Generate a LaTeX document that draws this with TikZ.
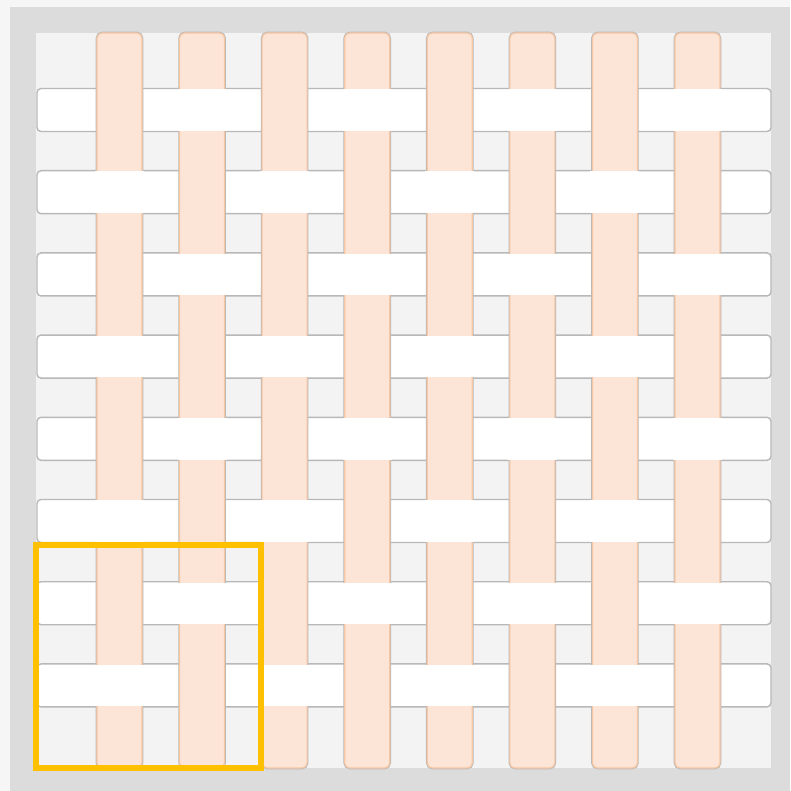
\documentclass[tikz,border=0pt]{standalone}
\usepackage{xcolor}
\definecolor{pagebg}{HTML}{F6F6F6}
\definecolor{framegrey}{HTML}{DCDCDC}
\definecolor{innerbg}{HTML}{F3F3F3}
\definecolor{warpfill}{HTML}{FCE4D6}
\definecolor{warpedge}{HTML}{F7C6A3}
\definecolor{stripline}{HTML}{B8B8B8}
\definecolor{highlight}{HTML}{FFC000}
\begin{document}
\begin{tikzpicture}[x=1pt,y=-1pt,
  warpstrip/.style={fill=warpfill,draw=warpedge,line width=1.2pt,rounded corners=5pt},
  warpshadow/.style={draw=stripline,line width=2.6pt,rounded corners=5pt},
  weftstrip/.style={fill=white,draw=stripline,line width=1.4pt,rounded corners=4pt},
  overpatch/.style={fill=white,draw=none},
  focusbox/.style={draw=highlight,line width=6pt}]
\useasboundingbox (0,0) rectangle (790,791);
\fill[pagebg] (0,0) rectangle (790,791);
\fill[framegrey] (10,7) rectangle (790,791);
\fill[innerbg] (36,33) rectangle (771,768);
% weft strips (horizontal)
\foreach \j in {0,...,7}{
  \pgfmathsetmacro\cy{110+82.2*\j}
  \draw[weftstrip] (37,{\cy-21.5}) rectangle (771,{\cy+21.5});
}
% warp strips (vertical)
\foreach \i in {0,...,7}{
  \pgfmathsetmacro\cx{119.5+82.57*\i}
  \draw[warpshadow] ({\cx-22.5},33) rectangle ({\cx+22.5},768);
  \draw[warpstrip] ({\cx-22.5},33) rectangle ({\cx+22.5},768);
}
% weft over warp where (i+j) is odd
\foreach \i in {0,...,7}{
  \foreach \j in {0,...,7}{
    \pgfmathsetmacro\cx{119.5+82.57*\i}
    \pgfmathsetmacro\cy{110+82.2*\j}
    \pgfmathtruncatemacro\oddsum{mod(\i+\j,2)}
    \ifnum\oddsum=1
      \fill[overpatch] ({\cx-24.5},{\cy-20.7}) rectangle ({\cx+24.5},{\cy+20.7});
    \fi
  }
}
\draw[focusbox] (36.3,544.5) rectangle (261,768);
\end{tikzpicture}
\end{document}
